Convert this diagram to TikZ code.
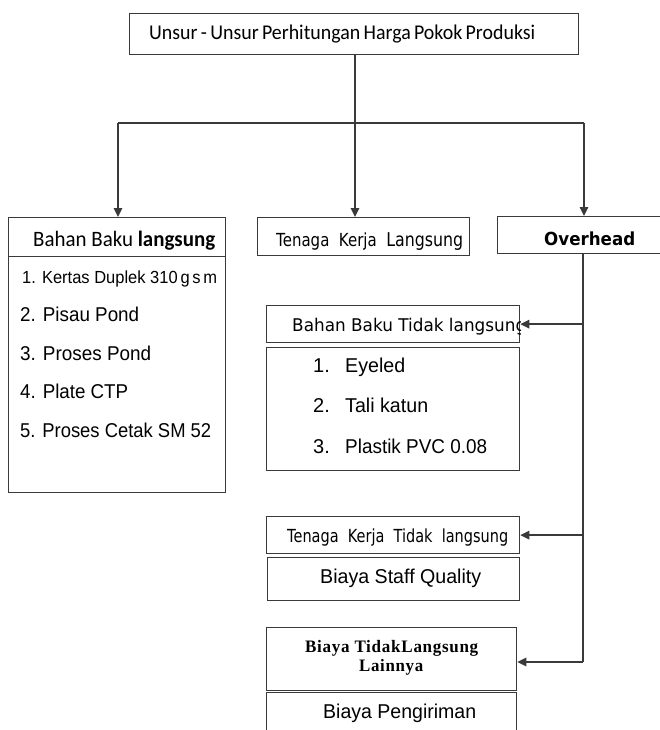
\documentclass[tikz,border=0pt]{standalone}
\usepackage{fontspec}
\usepackage{graphicx}
\setmainfont{Liberation Sans}
\newfontfamily\calib{Carlito}
\newfontfamily\tah{DejaVu Sans}
\newfontfamily\tms[LetterSpace=4]{Liberation Serif}
\usetikzlibrary{arrows.meta}
\definecolor{lc}{HTML}{3A3A3A}
\newcommand\fitw[2]{\resizebox{#1pt}{\height}{#2}}
\begin{document}
\begin{tikzpicture}[x=1pt,y=-1pt,
  box/.style={draw=lc, line width=1.3pt, rectangle, inner sep=0pt, anchor=north west},
  txt/.style={inner sep=0pt, anchor=base west, text=black},
  ln/.style={draw=lc, line width=1.4pt},
  arr/.style={draw=lc, line width=1.4pt, -{Triangle[length=9pt,width=8.5pt]}}]
\useasboundingbox (0,0) rectangle (660,730);
\fill[white] (0,0) rectangle (660,730);
% boxes
\node[box, minimum width=449pt, minimum height=41pt] (top) at (129,13) {};
\node[box, minimum width=217pt, minimum height=39pt] (bblh) at (8,217) {};
\node[box, minimum width=217pt, minimum height=236pt] (bblb) at (8,256) {};
\node[box, minimum width=212pt, minimum height=38pt] (tkl) at (257,217) {};
\node[box, minimum width=175pt, minimum height=37pt] (oh) at (497,216) {};
\node[box, minimum width=253pt, minimum height=37pt] (bbtlh) at (266,305) {};
\node[box, minimum width=253pt, minimum height=123pt] (bbtlb) at (266,347) {};
\node[box, minimum width=253pt, minimum height=37pt] (tktlh) at (266,516) {};
\node[box, minimum width=252pt, minimum height=43pt] (tktlb) at (267,557) {};
\node[box, minimum width=250pt, minimum height=63pt] (btllh) at (266,627) {};
\node[box, minimum width=250pt, minimum height=60pt] (btllb) at (266,692) {};
% texts
\node[txt] (t0) at (149,39.5) {\fitw{386}{\calib\fontsize{21}{24}\selectfont Unsur\,-\,Unsur\,Perhitungan\,Harga\,Pokok\,Produksi}};
\node[txt] (t1) at (33,246.7) {\fitw{182}{\calib\fontsize{22}{24}\selectfont Bahan Baku \textbf{langsung}}};
\node[txt] (t2) at (276,246.7) {\fitw{187}{\tah\fontsize{18}{20}\selectfont Tenaga\ \ Kerja\ \ \fontsize{19}{20}\selectfont Langsung}};
\node[txt] (t3) at (544,245) {\fitw{91}{\tah\bfseries\fontsize{18}{20}\selectfont Overhead}};
\node[txt] (l1) at (22,283.3) {\fitw{195}{\fontsize{17.5}{20}\selectfont 1. Kertas Duplek 310\,g\,s\,m}};
\node[txt] (l2) at (20,321.7) {\fitw{119}{\fontsize{20}{22}\selectfont 2. Pisau Pond}};
\node[txt] (l3) at (20,360) {\fitw{131}{\fontsize{20}{22}\selectfont 3. Proses Pond}};
\node[txt] (l4) at (20,398.3) {\fitw{108}{\fontsize{20}{22}\selectfont 4. Plate CTP}};
\node[txt] (l5) at (20,437.3) {\fitw{191}{\fontsize{20}{22}\selectfont 5. Proses Cetak SM 52}};
\begin{scope}
\clip (bbtlh.north west) rectangle (bbtlh.south east);
\node[txt] (t4) at (292,331.7) {\fitw{234}{\tah\fontsize{17.5}{20}\selectfont Bahan Baku Tidak langsung}};
\end{scope}
\node[txt] (n1) at (313,372.7) {\fontsize{20}{22}\selectfont 1.};
\node[txt] (e1) at (345,372.7) {\fitw{60}{\fontsize{20}{22}\selectfont Eyeled}};
\node[txt] (n2) at (313,412.7) {\fontsize{20}{22}\selectfont 2.};
\node[txt] (e2) at (345,412.7) {\fitw{83}{\fontsize{20}{22}\selectfont Tali katun}};
\node[txt] (n3) at (313,453.3) {\fontsize{20}{22}\selectfont 3.};
\node[txt] (e3) at (345,453.3) {\fitw{142}{\fontsize{20}{22}\selectfont Plastik PVC 0.08}};
\node[txt] (t5) at (287,542.3) {\fitw{221}{\tah\fontsize{18}{20}\selectfont Tenaga\ \ Kerja\ \ Tidak\ \ langsung}};
\node[txt] (t6) at (320,583.3) {\fitw{161}{\fontsize{20}{22}\selectfont Biaya Staff Quality}};
\node[txt] (t7) at (305,652.3) {\fitw{173}{\tms\bfseries\fontsize{17.5}{20}\selectfont Biaya Tidak\hspace{1pt}Langsung}};
\node[txt] (t8) at (359,671.7) {\fitw{64}{\tms\bfseries\fontsize{17.5}{20}\selectfont Lainnya}};
\node[txt] (t9) at (323,718.3) {\fitw{153}{\fontsize{20}{22}\selectfont Biaya Pengiriman}};
% connectors
\coordinate (jm) at (355,123);
\coordinate (jl) at (118,123);
\coordinate (jr) at (584,123);
\coordinate (ov) at (583,662);
\draw[ln] (top.south -| jm) -- (jm);
\draw[ln] (jl) -- (jr);
\draw[arr] (jl) -- (jl |- bblh.north);
\draw[arr] (jm) -- (jm |- tkl.north);
\draw[arr] (jr) -- (jr |- oh.north);
\draw[ln] (ov |- oh.south) -- (ov);
\draw[arr] (ov |- bbtlh.east) -- (bbtlh.east);
\draw[arr] (ov |- tktlh.east) -- (tktlh.east);
\draw[arr] (ov) -- (ov -| btllh.east);
\end{tikzpicture}
\end{document}
